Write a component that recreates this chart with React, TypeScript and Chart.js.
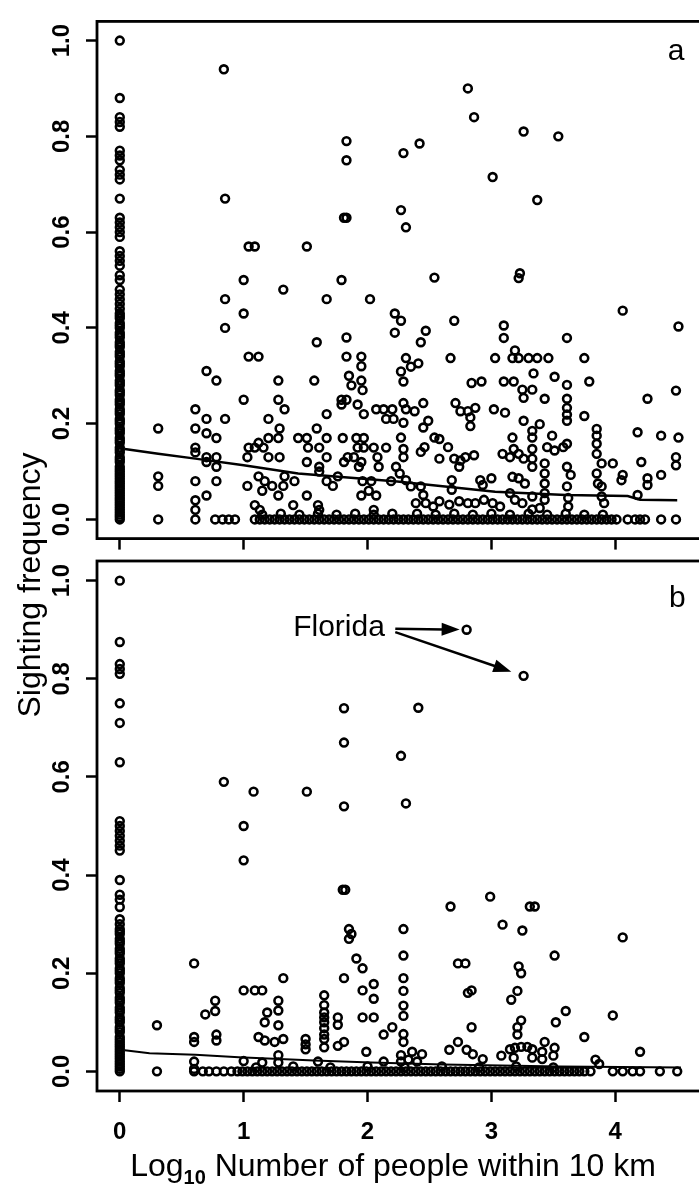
import React, { useEffect, useRef } from "react";
import { Chart, registerables } from "chart.js";
Chart.register(...registerables);

const FONT = "'Liberation Sans', Arial, Helvetica, sans-serif";

const xTickValues = [0, 1, 2, 3, 4];
const xTickLabels = ["0", "1", "2", "3", "4"];
const yTickValues = [0, 0.2, 0.4, 0.6, 0.8, 1.0];
const yTickLabels = ["0.0", "0.2", "0.4", "0.6", "0.8", "1.0"];
const xRange = [-0.184, 4.784];
const yRange = [-0.04, 1.04];

const xTitleMain = "Log";
const xTitleSub = "10";
const xTitleRest = " Number of people within 10 km";
const yTitle = "Sighting frequency";
const panelLabels = ["a", "b"];
const annotationText = "Florida";

// ---------- Panel a ----------
const panelAZeroColumn = [
  1.0, 0.88, 0.84, 0.83, 0.82, 0.77, 0.76, 0.75, 0.73, 0.72, 0.71, 0.67, 0.63, 0.62, 0.61, 0.6, 0.59,
  0.56, 0.55, 0.54, 0.53, 0.51, 0.5, 0.48, 0.47, 0.46, 0.45, 0.44, 0.43, 0.42, 0.41, 0.4, 0.39, 0.38,
  0.37, 0.36, 0.35, 0.34, 0.33, 0.32, 0.31, 0.3, 0.29, 0.28, 0.27, 0.26, 0.25, 0.24, 0.23, 0.22, 0.21,
  0.2, 0.19, 0.18, 0.17, 0.16, 0.15, 0.14, 0.13, 0.12, 0.11, 0.1, 0.09, 0.08, 0.07, 0.06, 0.05, 0.04,
  0.03, 0.02, 0.01, 0.0, 0.005, 0.015, 0.025, 0.035, 0.045, 0.055, 0.065, 0.075, 0.085, 0.095,
  0.105, 0.125, 0.145, 0.165, 0.185, 0.205, 0.225, 0.245, 0.265, 0.285, 0.305, 0.325, 0.345, 0.365,
  0.385, 0.405, 0.425,
];
const panelAZeroRow = [
  0.31, 0.61, 0.77, 0.83, 0.88, 0.93, 1.09, 1.13, 1.17, 1.21, 1.25, 1.29, 1.33, 1.37, 1.41, 1.45, 1.49,
  1.53, 1.57, 1.61, 1.65, 1.69, 1.73, 1.77, 1.81, 1.85, 1.89, 1.93, 1.97, 2.01, 2.05, 2.09, 2.13, 2.17,
  2.21, 2.25, 2.29, 2.33, 2.37, 2.41, 2.45, 2.49, 2.53, 2.57, 2.61, 2.65, 2.69, 2.73, 2.77, 2.81, 2.85,
  2.89, 2.93, 2.97, 3.01, 3.05, 3.09, 3.13, 3.17, 3.21, 3.25, 3.29, 3.33, 3.37, 3.41, 3.45, 3.49, 3.53,
  3.57, 3.61, 3.65, 3.69, 3.73, 3.77, 3.81, 3.85, 3.89, 3.93, 3.97, 4.01, 4.1, 4.16, 4.2, 4.24, 4.37, 4.49,
];
const panelAScatter: [number, number][] = [
  [0.84, 0.94], [1.83, 0.79], [1.83, 0.75], [0.85, 0.67], [1.83, 0.63], [1.81, 0.63], [1.04, 0.57],
  [1.09, 0.57], [1.51, 0.57], [1.0, 0.5], [1.79, 0.5], [1.32, 0.48], [1.67, 0.46], [2.02, 0.46],
  [0.85, 0.46], [0.85, 0.4], [1.0, 0.43], [2.22, 0.43], [2.22, 0.39], [1.59, 0.37], [1.83, 0.38],
  [1.04, 0.34], [1.12, 0.34], [1.83, 0.34], [1.95, 0.34], [1.95, 0.32], [0.7, 0.31], [0.78, 0.29],
  [1.28, 0.29], [1.57, 0.29], [1.85, 0.3], [1.87, 0.28], [1.95, 0.29], [1.96, 0.27], [1.0, 0.25],
  [1.28, 0.25], [1.33, 0.23], [1.79, 0.25], [1.83, 0.25], [1.79, 0.24], [1.92, 0.24], [1.97, 0.22],
  [2.07, 0.23], [2.13, 0.23], [2.2, 0.23], [2.15, 0.21], [2.21, 0.21], [1.67, 0.22], [1.2, 0.21],
  [0.61, 0.23], [0.61, 0.19], [0.61, 0.15], [0.61, 0.14], [0.7, 0.21], [0.7, 0.18], [0.78, 0.17],
  [0.85, 0.21], [0.31, 0.19], [1.29, 0.19], [1.28, 0.17], [1.2, 0.17], [1.16, 0.15], [1.12, 0.16],
  [1.04, 0.15], [1.09, 0.15], [1.03, 0.13], [1.44, 0.17], [1.51, 0.17], [1.59, 0.19], [1.52, 0.15],
  [1.61, 0.15], [1.67, 0.17], [1.8, 0.17], [1.91, 0.17], [1.97, 0.17], [1.92, 0.15], [1.97, 0.15],
  [2.05, 0.15], [2.15, 0.15], [1.2, 0.13], [1.29, 0.13], [1.67, 0.13], [1.84, 0.13], [1.89, 0.13],
  [1.95, 0.12], [2.08, 0.13], [2.09, 0.11], [0.7, 0.13], [0.78, 0.13], [0.78, 0.11], [0.7, 0.12],
  [1.51, 0.12], [1.61, 0.11], [1.61, 0.1], [1.81, 0.12], [1.93, 0.11], [1.76, 0.09], [0.31, 0.09],
  [0.31, 0.07], [0.61, 0.08], [0.78, 0.08], [1.03, 0.07], [1.12, 0.09], [1.17, 0.08], [1.15, 0.06],
  [1.23, 0.07], [1.33, 0.09], [1.32, 0.07], [1.28, 0.05], [1.41, 0.08], [1.67, 0.08], [1.72, 0.07],
  [1.96, 0.08], [2.03, 0.08], [2.01, 0.06], [2.07, 0.05], [1.95, 0.05], [2.19, 0.08], [0.7, 0.05],
  [1.51, 0.05], [1.4, 0.03], [1.6, 0.03], [1.61, 0.02], [1.09, 0.03], [1.13, 0.02], [0.61, 0.04],
  [0.61, 0.02], [2.05, 0.02],
  [2.81, 0.9], [2.86, 0.84], [3.26, 0.81], [3.54, 0.8], [2.42, 0.785], [2.29, 0.765], [3.01, 0.715],
  [3.37, 0.667], [2.27, 0.646], [2.31, 0.61], [2.54, 0.505], [3.23, 0.514], [3.22, 0.504], [4.06, 0.436],
  [4.51, 0.403], [2.7, 0.415], [2.27, 0.415], [2.47, 0.394], [2.43, 0.37], [3.1, 0.405], [3.1, 0.379],
  [3.61, 0.379], [2.67, 0.337], [3.03, 0.337], [3.19, 0.353], [3.17, 0.337], [3.22, 0.337], [3.3, 0.337],
  [3.37, 0.337], [3.46, 0.337], [3.75, 0.337], [2.31, 0.337], [2.27, 0.309], [2.29, 0.288], [2.35, 0.319],
  [2.41, 0.326], [2.84, 0.285], [2.92, 0.288], [3.1, 0.288], [3.18, 0.288], [3.34, 0.305], [3.51, 0.298],
  [3.61, 0.281], [3.79, 0.288], [3.25, 0.271], [3.33, 0.271], [3.26, 0.254], [3.43, 0.252], [3.61, 0.252],
  [3.61, 0.233], [3.61, 0.219], [3.61, 0.206], [4.49, 0.269], [4.26, 0.252], [3.75, 0.216], [2.29, 0.243],
  [2.31, 0.23], [2.38, 0.226], [2.45, 0.243], [2.71, 0.243], [2.75, 0.226], [2.81, 0.226], [2.87, 0.233],
  [2.83, 0.213], [2.83, 0.195], [3.02, 0.23], [3.11, 0.223], [3.26, 0.206], [2.29, 0.202], [2.27, 0.171],
  [2.45, 0.192], [2.49, 0.206], [3.39, 0.199], [3.33, 0.185], [3.33, 0.171], [3.17, 0.171], [3.18, 0.147],
  [3.85, 0.189], [3.85, 0.175], [3.85, 0.158], [3.85, 0.137], [4.18, 0.182], [4.37, 0.175], [4.51, 0.171],
  [2.54, 0.171], [2.58, 0.168], [2.65, 0.151], [3.49, 0.175], [3.45, 0.151], [3.51, 0.144], [3.58, 0.151],
  [3.61, 0.158], [2.29, 0.147], [2.29, 0.13], [2.43, 0.141], [2.46, 0.151], [2.58, 0.127], [2.7, 0.127],
  [2.75, 0.123], [2.79, 0.13], [2.86, 0.134], [2.74, 0.11], [3.09, 0.137], [3.15, 0.13], [3.22, 0.137],
  [3.26, 0.127], [3.33, 0.147], [3.33, 0.127], [3.33, 0.11], [3.43, 0.117], [3.43, 0.096], [3.98, 0.117],
  [3.89, 0.117], [4.21, 0.12], [4.49, 0.13], [4.49, 0.113], [4.06, 0.093], [4.05, 0.082], [4.26, 0.086],
  [4.26, 0.072], [4.37, 0.093], [3.61, 0.11], [3.64, 0.093], [3.61, 0.069], [3.85, 0.096], [3.86, 0.075],
  [3.89, 0.069], [2.23, 0.11], [2.26, 0.096], [2.31, 0.082], [2.35, 0.069], [2.43, 0.069], [2.45, 0.051],
  [2.68, 0.082], [2.68, 0.062], [2.91, 0.082], [2.93, 0.072], [3.0, 0.086], [3.17, 0.089], [3.22, 0.086],
  [3.27, 0.075], [3.43, 0.075], [3.43, 0.055], [3.43, 0.041], [3.15, 0.055], [3.19, 0.041], [3.25, 0.034],
  [3.33, 0.048], [3.62, 0.045], [3.62, 0.027], [3.89, 0.048], [3.91, 0.034], [4.18, 0.051], [2.39, 0.034],
  [2.47, 0.034], [2.53, 0.027], [2.58, 0.038], [2.66, 0.031], [2.74, 0.038], [2.81, 0.034], [2.87, 0.034],
  [2.94, 0.041], [3.01, 0.034], [3.07, 0.027], [3.33, 0.021], [3.39, 0.024],
  [1.15, 0.01], [1.3, 0.012], [1.45, 0.01], [1.6, 0.012], [1.75, 0.01], [1.9, 0.012], [2.05, 0.01],
  [2.2, 0.012], [2.4, 0.012], [2.55, 0.01], [2.7, 0.012], [2.85, 0.01], [3.0, 0.012], [3.15, 0.01],
  [3.3, 0.012], [3.45, 0.01], [3.6, 0.012], [3.75, 0.01], [3.9, 0.01],
];
const panelAFitX = [0.04, 0.31, 0.61, 1.0, 1.44, 2.24, 3.03, 3.6, 4.1, 4.2, 4.5];
const panelAFitY = [0.147, 0.137, 0.127, 0.113, 0.096, 0.079, 0.058, 0.051, 0.049, 0.041, 0.04];

// ---------- Panel b ----------
const panelBZeroColumn = [
  1.0, 0.875, 0.83, 0.82, 0.81, 0.75, 0.71, 0.63, 0.51, 0.5, 0.49, 0.48, 0.47, 0.46, 0.45, 0.39, 0.36,
  0.35, 0.335, 0.31, 0.3, 0.29, 0.28, 0.27, 0.26, 0.25, 0.24, 0.23, 0.22, 0.21, 0.2, 0.19, 0.18, 0.17,
  0.16, 0.15, 0.14, 0.13, 0.12, 0.11, 0.1, 0.09, 0.08, 0.07, 0.06, 0.05, 0.04, 0.03, 0.02, 0.01, 0.0,
  0.005, 0.015, 0.025, 0.035, 0.045, 0.055, 0.065, 0.085, 0.105, 0.125, 0.145, 0.165, 0.185, 0.205,
  0.225, 0.245, 0.265, 0.285,
];
const panelBZeroRow = [
  0.3, 0.6, 0.67, 0.72, 0.78, 0.84, 0.9, 0.95, 0.99, 1.03, 1.07, 1.11, 1.15, 1.19, 1.23, 1.27, 1.31,
  1.35, 1.39, 1.43, 1.47, 1.51, 1.55, 1.59, 1.63, 1.67, 1.71, 1.75, 1.79, 1.83, 1.87, 1.91, 1.95, 1.99,
  2.03, 2.07, 2.11, 2.15, 2.19, 2.23, 2.27, 2.31, 2.35, 2.39, 2.43, 2.47, 2.51, 2.55, 2.59, 2.63, 2.67,
  2.71, 2.75, 2.79, 2.83, 2.87, 2.91, 2.95, 2.99, 3.03, 3.07, 3.11, 3.15, 3.19, 3.23, 3.27, 3.31, 3.35,
  3.39, 3.43, 3.47, 3.51, 3.55, 3.59, 3.63, 3.67, 3.71, 3.75, 3.8, 3.98, 4.06, 4.14, 4.2, 4.36, 4.5,
];
const floridaPoints: [number, number][] = [[2.8, 0.9], [3.26, 0.806]];
const panelBScatter: [number, number][] = [
  [1.81, 0.74], [1.81, 0.67], [0.84, 0.59], [1.08, 0.57], [1.51, 0.57], [1.81, 0.54], [1.0, 0.5],
  [1.0, 0.43], [1.8, 0.37], [1.82, 0.37], [1.85, 0.29], [1.87, 0.28], [1.85, 0.27], [1.91, 0.23],
  [1.96, 0.21], [1.81, 0.19], [0.6, 0.22], [1.32, 0.19], [1.0, 0.165], [1.09, 0.165], [1.15, 0.165],
  [2.05, 0.178], [1.96, 0.165], [2.05, 0.148], [1.65, 0.155], [0.77, 0.144], [0.77, 0.123], [0.69, 0.116],
  [1.28, 0.144], [1.28, 0.124], [1.28, 0.094], [1.19, 0.12], [1.17, 0.1], [1.65, 0.135], [1.65, 0.12],
  [1.65, 0.11], [1.65, 0.1], [1.65, 0.088], [1.65, 0.075], [1.65, 0.066], [1.65, 0.049], [1.76, 0.11],
  [1.76, 0.095], [1.76, 0.052], [1.81, 0.06], [1.96, 0.11], [2.05, 0.11], [2.13, 0.075], [2.2, 0.09],
  [0.3, 0.094], [0.6, 0.07], [0.6, 0.06], [0.78, 0.075], [0.78, 0.063], [1.12, 0.07], [1.17, 0.063],
  [1.32, 0.066], [1.25, 0.06], [1.28, 0.033], [1.5, 0.066], [1.5, 0.055], [1.5, 0.045], [1.6, 0.02],
  [1.99, 0.04], [1.0, 0.021], [1.15, 0.018], [1.28, 0.018], [2.13, 0.02], [0.6, 0.02], [0.6, 0.005],
  [2.41, 0.741], [2.27, 0.643], [2.31, 0.546], [2.99, 0.356], [2.67, 0.336], [3.31, 0.336], [3.35, 0.336],
  [3.09, 0.299], [3.25, 0.287], [2.29, 0.29], [4.06, 0.273], [3.51, 0.236], [2.29, 0.236], [2.73, 0.22],
  [2.79, 0.22], [3.22, 0.214], [3.24, 0.2], [2.29, 0.19], [2.29, 0.164], [2.81, 0.16], [2.84, 0.165],
  [3.21, 0.164], [3.16, 0.146], [3.6, 0.123], [2.29, 0.134], [2.29, 0.113], [3.52, 0.1], [3.98, 0.114],
  [3.24, 0.104], [3.21, 0.09], [3.21, 0.075], [2.84, 0.09], [3.75, 0.07], [2.29, 0.076], [2.29, 0.06],
  [2.73, 0.06], [2.66, 0.044], [2.8, 0.044], [2.36, 0.04], [2.44, 0.035], [2.33, 0.024], [2.4, 0.02],
  [2.85, 0.035], [2.93, 0.025], [3.08, 0.032], [3.15, 0.045], [3.19, 0.048], [3.24, 0.05], [3.29, 0.05],
  [3.33, 0.045], [3.43, 0.06], [3.41, 0.04], [3.51, 0.048], [3.5, 0.032], [3.18, 0.028], [3.33, 0.028],
  [3.41, 0.025], [4.2, 0.04], [3.84, 0.024], [3.87, 0.015], [2.27, 0.033], [2.27, 0.02],
  [1.1, 0.008], [1.4, 0.01], [1.7, 0.008], [2.0, 0.01], [2.3, 0.008], [2.6, 0.01], [2.9, 0.008],
  [3.2, 0.01], [3.5, 0.008],
];
const panelBFitX = [0.04, 0.24, 0.61, 0.96, 1.57, 2.03, 2.61, 3.55, 4.53];
const panelBFitY = [0.043, 0.037, 0.034, 0.029, 0.022, 0.018, 0.014, 0.01, 0.008];
const floridaArrowStarts: [number, number][] = [[2.224, 0.902], [2.224, 0.895]];
const floridaArrowGaps = [7, 13];

function buildPoints(col: number[], row: number[], pairs: [number, number][]) {
  return [
    ...col.map((y) => ({ x: 0, y })),
    ...row.map((x) => ({ x, y: 0 })),
    ...pairs.map(([x, y]) => ({ x, y })),
  ];
}

const boxPlugin = {
  id: "box",
  afterDatasetsDraw(chart: any) {
    const { ctx, chartArea: a } = chart;
    ctx.save();
    ctx.strokeStyle = "#000";
    ctx.lineWidth = 2.8;
    ctx.strokeRect(a.left, a.top, a.right - a.left, a.bottom - a.top);
    ctx.restore();
  },
};

function panelLabelPlugin(label: string, lx: number, ly: number) {
  return {
    id: "panelLabel" + label,
    afterDraw(chart: any) {
      const { ctx, scales } = chart;
      ctx.save();
      ctx.fillStyle = "#000";
      ctx.font = `30px ${FONT}`;
      ctx.textAlign = "center";
      ctx.textBaseline = "alphabetic";
      ctx.fillText(label, scales.x.getPixelForValue(lx), scales.y.getPixelForValue(ly));
      ctx.restore();
    },
  };
}

const panelBExtras = {
  id: "panelBExtras",
  afterDraw(chart: any) {
    const { ctx, scales } = chart;
    const x = scales.x;
    const y = scales.y;
    ctx.save();
    ctx.fillStyle = "#000";
    ctx.strokeStyle = "#000";
    // Florida annotation
    ctx.font = `30px ${FONT}`;
    ctx.textAlign = "right";
    ctx.textBaseline = "middle";
    ctx.fillText(annotationText, x.getPixelForValue(2.14), y.getPixelForValue(0.905));
    floridaPoints.forEach(([px, py], i) => {
      const sx = x.getPixelForValue(floridaArrowStarts[i][0]);
      const sy = y.getPixelForValue(floridaArrowStarts[i][1]);
      const tx = x.getPixelForValue(px);
      const ty = y.getPixelForValue(py);
      const ang = Math.atan2(ty - sy, tx - sx);
      const gap = floridaArrowGaps[i];
      const head = 18;
      const hw = 6.5;
      const ex = tx - Math.cos(ang) * gap;
      const ey = ty - Math.sin(ang) * gap;
      const bx = ex - Math.cos(ang) * head;
      const by = ey - Math.sin(ang) * head;
      ctx.lineWidth = 2.5;
      ctx.beginPath();
      ctx.moveTo(sx, sy);
      ctx.lineTo(bx + Math.cos(ang) * 2, by + Math.sin(ang) * 2);
      ctx.stroke();
      ctx.beginPath();
      ctx.moveTo(ex, ey);
      ctx.lineTo(bx - Math.sin(ang) * hw, by + Math.cos(ang) * hw);
      ctx.lineTo(bx + Math.sin(ang) * hw, by - Math.cos(ang) * hw);
      ctx.closePath();
      ctx.fill();
    });
    // y-axis title (shared by both panels)
    ctx.save();
    ctx.translate(40, 585);
    ctx.rotate(-Math.PI / 2);
    ctx.font = `32px ${FONT}`;
    ctx.textAlign = "center";
    ctx.textBaseline = "alphabetic";
    ctx.fillText(yTitle, 0, 0);
    ctx.restore();
    // x-axis title with subscript
    const mainFont = `32px ${FONT}`;
    const subFont = `bold 20px ${FONT}`;
    ctx.font = mainFont;
    const w1 = ctx.measureText(xTitleMain).width;
    const w3 = ctx.measureText(xTitleRest).width;
    ctx.font = subFont;
    const w2 = ctx.measureText(xTitleSub).width;
    const total = w1 + w2 + w3;
    const cx = 393;
    const base = 1176;
    const start = cx - total / 2;
    ctx.textAlign = "left";
    ctx.textBaseline = "alphabetic";
    ctx.font = mainFont;
    ctx.fillText(xTitleMain, start, base);
    ctx.font = subFont;
    ctx.fillText(xTitleSub, start + w1, base + 8);
    ctx.font = mainFont;
    ctx.fillText(xTitleRest, start + w1 + w2, base);
    ctx.restore();
  },
};

function makeConfig(opts: {
  points: { x: number; y: number }[];
  fit: { x: number; y: number }[];
  fitWidth: number;
  topPad: number;
  xAxisHeight: number;
  showXLabels: boolean;
  plugins: any[];
}) {
  const tickFont = { family: FONT, size: 24, weight: "bold" as const };
  return {
    type: "scatter" as const,
    data: {
      datasets: [
        {
          type: "scatter" as const,
          data: opts.points,
          pointStyle: "circle",
          pointRadius: 3.9,
          borderWidth: 2.6,
          borderColor: "#000",
          backgroundColor: "rgba(0,0,0,0)",
        },
        {
          type: "line" as const,
          data: opts.fit,
          borderColor: "#000",
          borderWidth: opts.fitWidth,
          pointRadius: 0,
          fill: false,
          tension: 0,
        },
      ],
    },
    options: {
      animation: false,
      responsive: false,
      maintainAspectRatio: false,
      events: [],
      layout: { padding: { left: 0, top: opts.topPad, right: 1, bottom: 0 } },
      plugins: { legend: { display: false }, tooltip: { enabled: false }, title: { display: false } },
      scales: {
        x: {
          type: "linear",
          min: xRange[0],
          max: xRange[1],
          afterBuildTicks: (s: any) => {
            s.ticks = xTickValues.map((v) => ({ value: v }));
          },
          afterFit: (s: any) => {
            s.height = opts.xAxisHeight;
          },
          border: { display: false },
          grid: {
            drawOnChartArea: false,
            drawTicks: true,
            tickLength: 11,
            tickWidth: 2.5,
            tickColor: "#000",
          },
          ticks: {
            display: opts.showXLabels,
            autoSkip: false,
            maxRotation: 0,
            minRotation: 0,
            padding: 16,
            color: "#000",
            font: tickFont,
            callback: (v: any) => xTickLabels[xTickValues.indexOf(Number(v))] ?? "",
          },
        },
        y: {
          type: "linear",
          min: yRange[0],
          max: yRange[1],
          afterBuildTicks: (s: any) => {
            s.ticks = yTickValues.map((v) => ({ value: v }));
          },
          afterFit: (s: any) => {
            s.width = 97;
          },
          border: { display: false },
          grid: {
            drawOnChartArea: false,
            drawTicks: true,
            tickLength: 11,
            tickWidth: 2.5,
            tickColor: "#000",
          },
          ticks: {
            autoSkip: false,
            minRotation: 90,
            maxRotation: 90,
            crossAlign: "center",
            padding: 7,
            color: "#000",
            font: tickFont,
            callback: (v: any) => {
              const i = yTickValues.findIndex((t) => Math.abs(t - Number(v)) < 1e-6);
              return i >= 0 ? yTickLabels[i] : "";
            },
          },
        },
      },
    },
    plugins: [boxPlugin, ...opts.plugins],
  };
}

export default function App() {
  const refA = useRef<HTMLCanvasElement | null>(null);
  const refB = useRef<HTMLCanvasElement | null>(null);

  useEffect(() => {
    if (!refA.current || !refB.current) return;
    const fitA = panelAFitX.map((x, i) => ({ x, y: panelAFitY[i] }));
    const fitB = panelBFitX.map((x, i) => ({ x, y: panelBFitY[i] }));
    const chartA = new Chart(
      refA.current,
      makeConfig({
        points: buildPoints(panelAZeroColumn, panelAZeroRow, panelAScatter),
        fit: fitA,
        fitWidth: 2.5,
        topPad: 12,
        xAxisHeight: 19,
        showXLabels: false,
        plugins: [panelLabelPlugin(panelLabels[0], 4.49, 0.959)],
      }) as any
    );
    const chartB = new Chart(
      refB.current,
      makeConfig({
        points: buildPoints(panelBZeroColumn, panelBZeroRow, [...floridaPoints, ...panelBScatter]),
        fit: fitB,
        fitWidth: 2,
        topPad: 561,
        xAxisHeight: 95,
        showXLabels: true,
        plugins: [panelLabelPlugin(panelLabels[1], 4.5, 0.947), panelBExtras],
      }) as any
    );
    return () => {
      chartA.destroy();
      chartB.destroy();
    };
  }, []);

  return (
    <div
      style={{
        position: "absolute",
        left: 0,
        top: 0,
        width: 699,
        height: 1186,
        overflow: "hidden",
        background: "#fff",
      }}
    >
      <canvas
        ref={refB}
        width={719}
        height={1186}
        style={{ position: "absolute", left: 0, top: 0, width: 719, height: 1186 }}
      />
      <canvas
        ref={refA}
        width={719}
        height={560}
        style={{ position: "absolute", left: 0, top: 0, width: 719, height: 560 }}
      />
    </div>
  );
}
